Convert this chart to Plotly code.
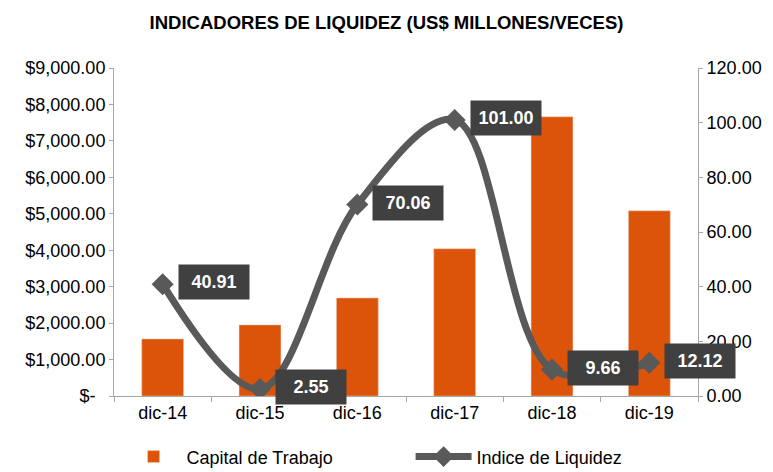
import plotly.graph_objects as go
from plotly.subplots import make_subplots


class LiquidityVisualizer:
    def __init__(self, data):
        self.data = data

    def plot_liquidity(self) -> go.Figure:
        """Create combined bar/line plot of liquidity indicators"""
        fig = make_subplots(specs=[[{"secondary_y": True}]])

        # Capital de trabajo (bars)
        fig.add_trace(
            go.Bar(
                x=self.data['periodo'],
                y=self.data['capital'],
                name='Capital de Trabajo',
                width=0.43,
                marker=dict(color='#DC540A', line=dict(color='#F2CDB8', width=0.5))
            ),
            secondary_y=False
        )

        # Indice de liquidez (smoothed line)
        fig.add_trace(
            go.Scatter(
                x=self.data['periodo'],
                y=self.data['indice'],
                mode='lines+markers',
                line=dict(color='#595959', width=7, shape='spline', smoothing=1.0),
                marker=dict(symbol='diamond', size=17, color='#595959'),
                name='Indice de Liquidez'
            ),
            secondary_y=True
        )

        # Data labels
        for periodo, val in zip(self.data['periodo'], self.data['indice']):
            fig.add_annotation(
                x=periodo, y=val, yref='y2',
                text=f"<b>{val:.2f}</b>",
                showarrow=False,
                xanchor='left', xshift=15, yshift=2,
                width=60, height=24,
                bgcolor='#404040',
                borderpad=5,
                font=dict(color='white', size=18)
            )

        # Layout
        fig.update_layout(
            width=773, height=472,
            title=dict(text="<b>INDICADORES DE LIQUIDEZ (US$ MILLONES/VECES)</b>",
                       x=0.5, y=0.952, xanchor='center', yanchor='middle',
                       font=dict(size=18.5)),
            font=dict(family="Liberation Sans, Arial", size=18, color='black'),
            plot_bgcolor='white', paper_bgcolor='white',
            margin=dict(l=114, r=75, t=68, b=76),
            bargap=0.57,
            legend=dict(orientation='h', xref='container', yref='container',
                        x=0.156, xanchor='left', y=0.032, yanchor='middle',
                        itemwidth=56, entrywidth=219, font=dict(size=18)),
        )

        cap_ticks = list(range(0, 9001, 1000))
        n = len(self.data['periodo'])
        fig.update_xaxes(domain=[0, 1], range=[-0.5, n - 0.5], showline=True,
                         linecolor='#A6A6A6', ticks='outside', tickson='boundaries',
                         tickcolor='#A6A6A6', ticklen=5, automargin=False)
        fig.update_yaxes(range=[0, 9000], tickvals=cap_ticks,
                         ticktext=["$-\u00a0\u00a0" if v == 0 else f"${v:,.2f}" for v in cap_ticks],
                         showline=True, linecolor='#A6A6A6', ticks='outside',
                         tickcolor='#A6A6A6', ticklen=4, showgrid=False,
                         zeroline=False, automargin=False, secondary_y=False)
        fig.update_yaxes(range=[0, 120], dtick=20, tickformat='.2f',
                         showline=True, linecolor='#A6A6A6', ticks='outside',
                         tickcolor='#A6A6A6', ticklen=4, showgrid=False,
                         zeroline=False, automargin=False, secondary_y=True)

        return fig


data = {
    'periodo': ['dic-14', 'dic-15', 'dic-16', 'dic-17', 'dic-18', 'dic-19'],
    'capital': [1565, 1950, 2690, 4040, 7660, 5080],
    'indice': [40.91, 2.55, 70.06, 101.00, 9.66, 12.12],
}

fig = LiquidityVisualizer(data).plot_liquidity()
fig.write_html("out.html", config={'displayModeBar': False},
               post_script="document.body.style.margin='0';")
